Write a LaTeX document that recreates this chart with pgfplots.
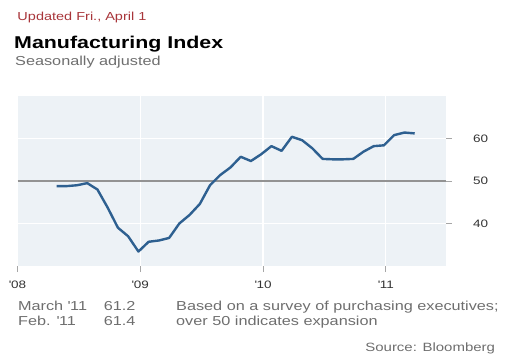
\documentclass[border=0pt]{standalone}
\usepackage{pgfplots}
\pgfplotsset{compat=1.18}
\usepackage{fontspec}
\setmainfont{Liberation Sans}[FakeStretch=1.25]
\definecolor{bgc}{HTML}{EDF2F6}
\definecolor{linec}{HTML}{2E6090}
\definecolor{redt}{HTML}{A8353A}
\definecolor{grayt}{HTML}{6E6E6E}
\definecolor{tickt}{HTML}{333333}
\pgfplotstableread{
x y
2008.318 48.8
2008.401 48.8
2008.485 49.0
2008.568 49.5
2008.651 48.0
2008.735 43.7
2008.818 39.0
2008.901 37.0
2008.985 33.4
2009.068 35.7
2009.151 36.0
2009.235 36.6
2009.318 40.0
2009.401 42.0
2009.485 44.6
2009.568 49.0
2009.651 51.4
2009.735 53.2
2009.818 55.7
2009.901 54.7
2009.985 56.3
2010.068 58.2
2010.151 57.1
2010.235 60.4
2010.318 59.6
2010.401 57.7
2010.485 55.2
2010.568 55.1
2010.651 55.1
2010.735 55.2
2010.818 56.9
2010.901 58.2
2010.985 58.4
2011.068 60.8
2011.151 61.4
2011.235 61.2
}\mfg
\begin{document}
\begin{tikzpicture}
\path[use as bounding box] (0,0) rectangle (529bp,361bp);
\begin{axis}[
  at={(17.5bp,95bp)}, anchor=south west,
  scale only axis, width=428.5bp, height=170bp,
  xmin=2008, xmax=2011.49, ymin=30, ymax=70,
  axis line style={draw=none},
  axis background/.style={fill=bgc},
  xtick={2008,2009,2010,2011},
  xticklabels={\textquotesingle 08,\textquotesingle 09,\textquotesingle 10,\textquotesingle 11},
  ytick={40,50,60},
  ytick pos=right, xtick pos=bottom,
  tick align=outside, major tick length=6bp,
  tick style={gray!70, line width=0.8bp},
  xmajorgrids, ymajorgrids,
  grid style={white, line width=1.2bp},
  /pgf/number format/assume math mode=true,
  xticklabel style={font=\fontsize{10.8bp}{12bp}\selectfont, text=tickt, anchor=base, inner sep=0pt, yshift=-16bp},
  yticklabel style={font=\fontsize{10.8bp}{12bp}\selectfont, text=tickt, anchor=west, inner sep=0pt, xshift=21bp},
  clip=false,
]
\addplot[gray!85, line width=1.1bp] coordinates {(2008,50) (2011.49,50)};
\addplot[linec, line width=2.4bp, line join=round] table[x=x,y=y] {\mfg};
\end{axis}
\node[anchor=base west, inner sep=0, text=redt, font=\fontsize{11.6bp}{13bp}\selectfont] at (17.3bp,340bp) {Updated Fri., April 1};
\node[anchor=base west, inner sep=0, text=black, font=\fontsize{17.1bp}{19bp}\selectfont\bfseries] at (14bp,312bp) {Manufacturing Index};
\node[anchor=base west, inner sep=0, text=grayt, font=\fontsize{13bp}{15bp}\selectfont] at (15bp,295.3bp) {Seasonally adjusted};
\begin{scope}[every node/.style={anchor=base west, inner sep=0, text=grayt, font=\fontsize{13bp}{15bp}\selectfont}]
\node at (17.9bp,50.7bp) {March \textquotesingle 11};
\node at (103.7bp,50.7bp) {61.2};
\node at (176bp,50.7bp) {Based on a survey of purchasing executives;};
\node at (17.9bp,35.8bp) {Feb. \textquotesingle 11};
\node at (103.7bp,35.8bp) {61.4};
\node at (176bp,35.8bp) {over 50 indicates expansion};
\end{scope}
\node[anchor=base east, inner sep=0, text=grayt, font=\fontsize{12bp}{14bp}\selectfont] at (495.3bp,9.3bp) {Source: Bloomberg};
\end{tikzpicture}
\end{document}
